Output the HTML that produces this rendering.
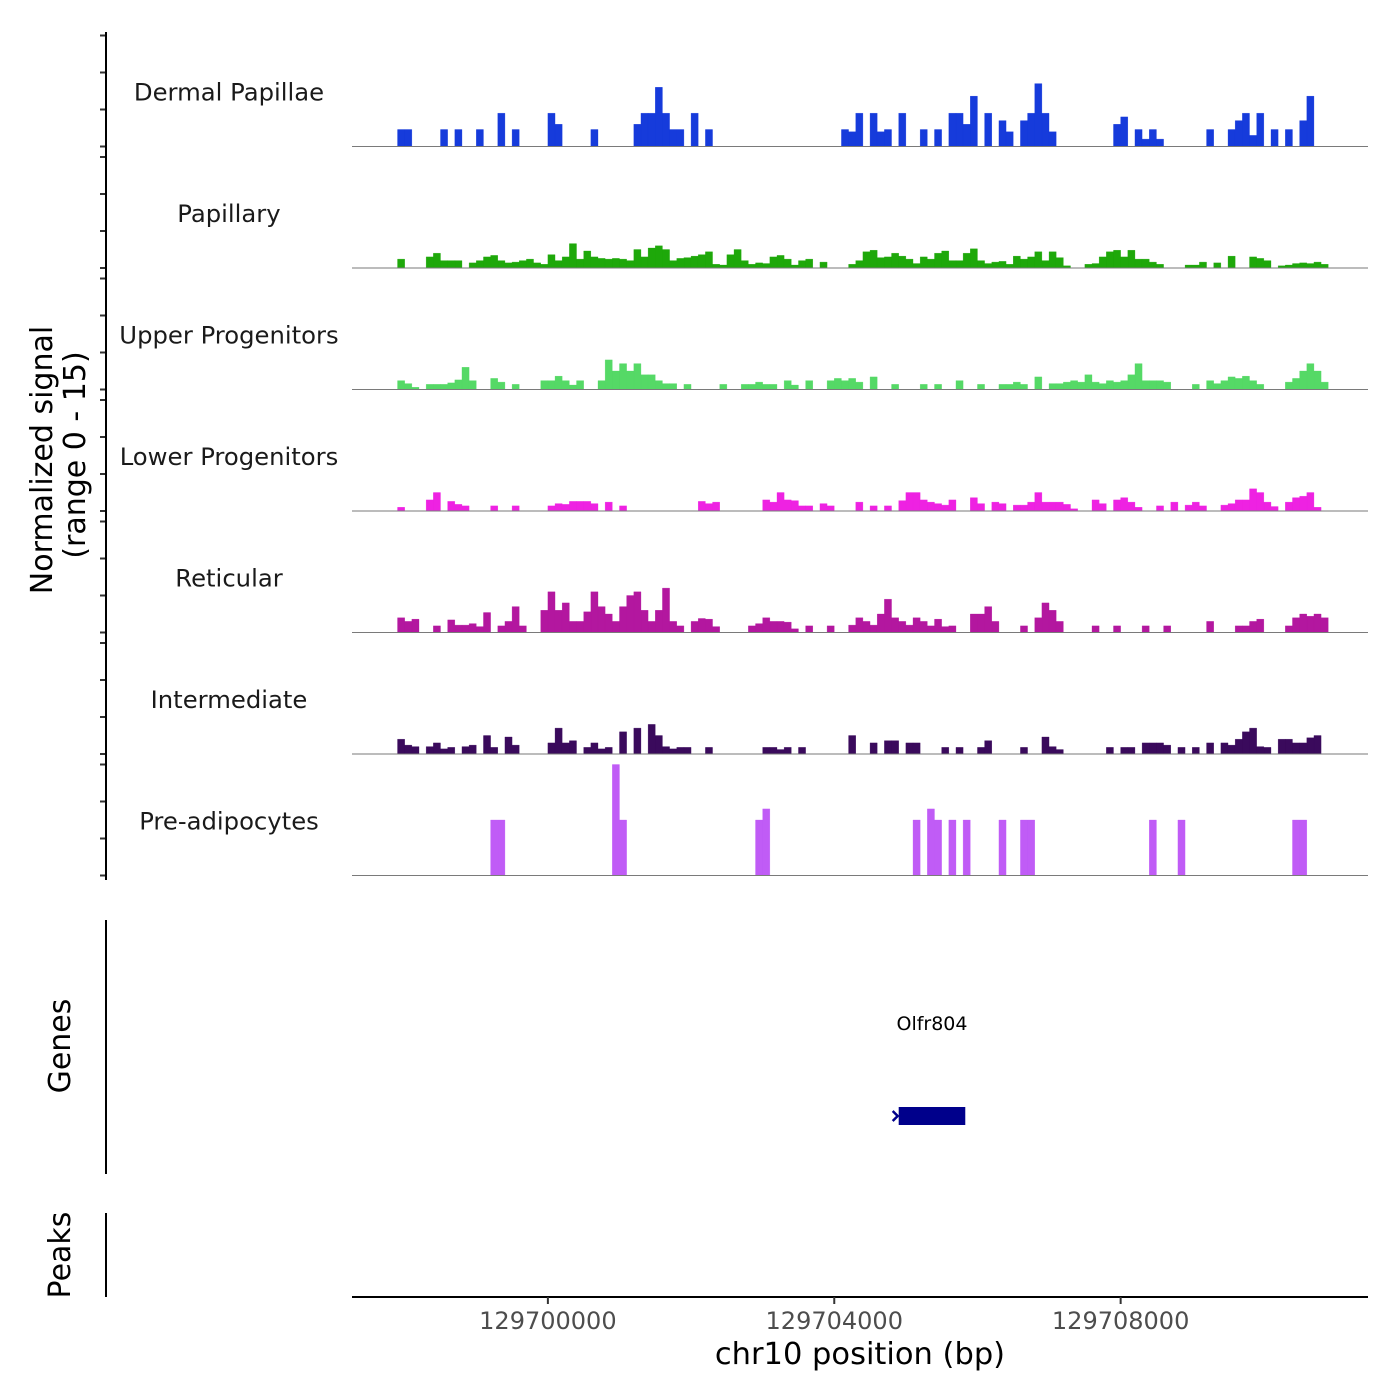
<!DOCTYPE html>
<html><head><meta charset="utf-8"><style>
html,body{margin:0;padding:0;background:#fff}
svg{display:block;font-family:"DejaVu Sans","Liberation Sans",sans-serif}
</style></head><body>
<svg id="chart" width="1400" height="1400" viewBox="0 0 1400 1400" xmlns="http://www.w3.org/2000/svg">
<g id="tracks"></g>
<g id="axes"></g>
<text transform="translate(52,460) rotate(-90)" text-anchor="middle" font-size="30" fill="#000">Normalized signal</text>
<text transform="translate(85,455) rotate(-90)" text-anchor="middle" font-size="30" fill="#000">(range 0 - 15)</text>
<line x1="106" y1="920" x2="106" y2="1174" stroke="#000" stroke-width="2"/>
<text transform="translate(70,1046) rotate(-90)" text-anchor="middle" font-size="30" fill="#000">Genes</text>
<line x1="106" y1="1213" x2="106" y2="1297" stroke="#000" stroke-width="2"/>
<text transform="translate(70,1255) rotate(-90)" text-anchor="middle" font-size="30" fill="#000">Peaks</text>
<g id="genes"></g>
</svg>
<script>
// genomic axis domain
const xDomain = [129697264, 129711455];
const binStart = 129697800;
const binSize = 100;
const trackNames = ["Dermal Papillae","Papillary","Upper Progenitors","Lower Progenitors","Reticular","Intermediate","Pre-adipocytes"];
const trackColors = ["#163bdb","#1ea80a","#55d966","#ee22e2","#b3179f","#3a0a5c","#c05cf6"];
const yTickValues = [0,5,10,15];
const xTickValues = [129700000,129704000,129708000];
const xTickLabels = ["129700000","129704000","129708000"];
const geneNames = ["Olfr804"];
const geneStarts = [129704900];
const geneEnds = [129705830];

// [bin index, normalized signal]
const dermal = [[1,2.3],[2,2.3],[7,2.3],[9,2.3],[12,2.3],[15,4.5],[17,2.3],[22,4.5],[23,3],[28,2.3],[34,3],[35,4.5],[36,4.5],[37,8],[38,4.5],[39,2.3],[40,2.3],[42,4.5],[44,2.3],[63,2.3],[64,2],[65,4.5],[67,4.5],[68,2],[69,2.3],[71,4.5],[74,2.3],[76,2.3],[78,4.5],[79,4.5],[80,3],[81,6.8],[83,4.5],[85,3.5],[86,2],[88,3.5],[89,4.5],[90,8.5],[91,4.5],[92,2],[101,3],[102,4],[104,2.3],[105,1],[106,2.3],[107,1],[114,2.3],[117,2.3],[118,3.5],[119,4.5],[120,1.5],[121,4.5],[123,2.3],[125,2.3],[127,3.5],[128,6.8]];
const papillary = [[1,1.2],[5,1.5],[6,2],[7,1],[8,1],[9,1],[11,0.7],[12,1],[13,1.5],[14,1.7],[15,1],[16,0.7],[17,0.8],[18,1],[19,1.2],[20,0.7],[21,0.5],[22,1.8],[23,1],[24,1.5],[25,3.3],[26,1.2],[27,2.3],[28,1.5],[29,1.3],[30,1.2],[31,1.3],[32,1.2],[33,1],[34,2.5],[35,1.5],[36,2.7],[37,3],[38,2.5],[39,1],[40,1.3],[41,1.4],[42,1.6],[43,1.8],[44,2.2],[45,0.5],[46,0.4],[47,1.8],[48,2.5],[49,1],[50,0.5],[51,0.7],[52,0.6],[53,1.5],[54,1.7],[55,1.2],[56,0.4],[57,1],[58,1.2],[60,0.8],[64,0.5],[65,1],[66,2.2],[67,2.4],[68,1.4],[69,1.5],[70,2],[71,1.6],[72,1.2],[73,0.6],[74,1.5],[75,1.2],[76,2],[77,2.3],[78,1],[79,1],[80,2],[81,2.6],[82,1],[83,0.6],[84,0.8],[85,0.9],[86,0.5],[87,1.6],[88,1.2],[89,1.5],[90,2.2],[91,1],[92,2.2],[93,1.4],[94,0.3],[97,0.5],[98,0.6],[99,1.5],[100,2.2],[101,2.4],[102,1.5],[103,2.4],[104,1.2],[105,1.2],[106,0.8],[107,0.5],[111,0.4],[112,0.4],[113,0.8],[115,0.7],[117,1.6],[120,1.5],[121,1.3],[122,1],[124,0.3],[125,0.4],[126,0.6],[127,0.7],[128,0.6],[129,0.8],[130,0.5]];
const upper = [[1,1.2],[2,0.8],[3,0.3],[5,0.7],[6,0.7],[7,0.7],[8,0.9],[9,1.3],[10,3],[11,1.2],[14,1.5],[15,1],[17,0.7],[21,1.2],[22,1.2],[23,1.8],[24,1.2],[25,0.6],[26,1.2],[29,1.2],[30,4],[31,2.5],[32,3.5],[33,2.5],[34,3.5],[35,2],[36,2],[37,1.2],[38,0.8],[39,0.8],[41,0.7],[46,0.7],[49,0.7],[50,0.7],[51,1],[52,0.7],[53,0.7],[55,1.2],[56,0.6],[58,1.2],[61,1.2],[62,1.5],[63,1.2],[64,1.5],[65,1],[67,1.7],[70,0.7],[74,0.7],[76,0.7],[79,1.2],[82,0.7],[85,0.7],[86,0.7],[87,1],[88,0.7],[90,1.7],[92,0.8],[93,0.8],[94,1],[95,1.2],[96,1],[97,2],[98,1],[99,0.8],[100,1.2],[101,1],[102,1.2],[103,2],[104,3.5],[105,1.2],[106,1.2],[107,1.2],[108,1],[112,0.7],[114,1.2],[115,0.8],[116,1.2],[117,1.7],[118,1.5],[119,1.8],[120,1.2],[121,0.7],[125,1],[126,1.5],[127,2.5],[128,3.5],[129,2.5],[130,1]];
const lower = [[1,0.5],[5,1.5],[6,2.5],[8,1.3],[9,0.9],[10,0.7],[14,0.7],[17,0.7],[22,0.7],[23,1],[24,0.9],[25,1.3],[26,1.3],[27,1.3],[28,1],[30,1.2],[32,0.7],[43,1.3],[44,1],[45,1.2],[52,1.5],[53,1.2],[54,2.5],[55,1.5],[56,1.4],[57,0.7],[58,0.7],[60,1],[61,0.7],[65,1.2],[67,0.7],[69,0.7],[71,1.4],[72,2.5],[73,2.5],[74,1.5],[75,1.2],[76,1],[77,0.8],[78,1.5],[81,1.8],[82,1],[84,1.2],[85,1],[87,0.8],[88,0.8],[89,1.2],[90,2.5],[91,1.2],[92,1.2],[93,1.2],[94,0.9],[95,0.3],[98,1.5],[99,1],[101,1.5],[102,1.8],[103,1.2],[104,0.5],[107,0.7],[109,1.2],[111,0.8],[112,1.2],[113,0.7],[116,0.8],[117,1],[118,1.5],[119,1.5],[120,3],[121,2.5],[122,1.2],[123,0.6],[125,1.2],[126,1.8],[127,2],[128,2.5],[129,0.5]];
const reticular = [[1,2],[2,1.5],[3,1.8],[6,0.9],[8,1.7],[9,1],[10,1],[11,1.2],[12,0.8],[13,2.7],[15,0.9],[16,1.5],[17,3.5],[18,0.9],[21,3],[22,5.5],[23,3],[24,4],[25,1.5],[26,1.5],[27,2.8],[28,5.5],[29,3.5],[30,2.5],[31,1.5],[32,3.5],[33,5],[34,5.5],[35,3],[36,1.5],[37,3],[38,6],[39,1.5],[40,0.9],[42,1.5],[43,1.9],[44,1.8],[45,0.8],[50,0.9],[51,1.2],[52,2],[53,1.5],[54,1.5],[55,1.4],[56,0.5],[58,0.9],[61,0.9],[64,1],[65,2],[66,1.5],[67,1],[68,2.5],[69,4.5],[70,2],[71,1.5],[72,1],[73,2],[74,1.5],[75,0.9],[76,1.8],[77,0.8],[78,0.9],[81,2.5],[82,2.5],[83,3.5],[84,1.5],[88,0.9],[90,2],[91,4],[92,3],[93,1.5],[98,0.9],[101,0.9],[105,0.9],[108,0.9],[114,1.5],[118,0.9],[119,0.9],[120,1.5],[121,1.8],[125,0.9],[126,2],[127,2.5],[128,2.2],[129,2.5],[130,2]];
const intermediate = [[1,2],[2,1.2],[3,1],[5,1],[6,1.5],[7,0.7],[8,0.9],[10,1],[11,1.2],[13,2.5],[14,0.9],[16,2.3],[17,1.2],[22,1.5],[23,3.5],[24,1.5],[25,1.8],[27,0.9],[28,1.5],[29,0.7],[30,0.9],[32,3],[34,3.5],[36,4],[37,2.5],[38,1],[39,0.7],[40,0.9],[41,0.9],[44,0.9],[52,0.9],[53,0.9],[54,0.6],[55,0.9],[57,0.9],[64,2.5],[67,1.5],[69,1.8],[70,1.8],[72,1.5],[73,1.5],[77,0.9],[79,0.9],[82,0.9],[83,1.8],[88,0.9],[91,2.3],[92,1],[93,0.6],[100,0.9],[102,0.9],[103,0.9],[105,1.5],[106,1.5],[107,1.5],[108,1.2],[110,0.9],[112,0.9],[114,1.5],[116,1.5],[117,1.2],[118,2],[119,3],[120,3.5],[121,1],[122,0.9],[124,2],[125,2],[126,1.5],[127,1.5],[128,2.2],[129,2.5]];
const preadipocytes = [[14,7.5],[15,7.5],[31,15],[32,7.5],[51,7.5],[52,9],[73,7.5],[75,9],[76,7.5],[78,7.5],[80,7.5],[85,7.5],[88,7.5],[89,7.5],[106,7.5],[110,7.5],[126,7.5],[127,7.5]];
const trackData = [dermal, papillary, upper, lower, reticular, intermediate, preadipocytes];

const NS = "http://www.w3.org/2000/svg";
const plotL = 352, plotR = 1368;
const trackTop = 25, trackH = 121.5;
const xScale = bp => plotL + (bp - xDomain[0]) / (xDomain[1] - xDomain[0]) * (plotR - plotL);
const baseline = t => trackTop + (t + 1) * trackH;
const yScale = (t, v) => baseline(t) - v / 15 * 111;
function mk(tag, attrs, parent) {
  const el = document.createElementNS(NS, tag);
  for (const k in attrs) el.setAttribute(k, attrs[k]);
  parent.appendChild(el);
  return el;
}
const tracksG = document.getElementById('tracks');
const axesG = document.getElementById('axes');

trackData.forEach((series, t) => {
  const g = mk('g', {}, tracksG);
  
  
  const b = baseline(t);
  let d = '';
  series.forEach(([i, v]) => {
    const x0 = xScale(binStart + i * binSize), x1 = xScale(binStart + (i + 1) * binSize);
    const y = yScale(t, v);
    d += `M${x0.toFixed(2)},${b}L${x0.toFixed(2)},${y.toFixed(2)}L${x1.toFixed(2)},${y.toFixed(2)}L${x1.toFixed(2)},${b}Z`;
  });
  const p = mk('path', {d: d, fill: trackColors[t], stroke: trackColors[t], 'stroke-width': 0.3}, g);
  
  
  const ln = mk('line', {x1: plotL, x2: plotR, y1: b, y2: b, stroke: '#7a7a7a', 'stroke-width': 1}, g);
  
  
  const lab = mk('text', {x: 229, y: b - 46, 'text-anchor': 'middle', 'font-size': 24.3, fill: '#1a1a1a'}, g);
  lab.textContent = trackNames[t];
  
  
  yTickValues.forEach(v => {
    const y = yScale(t, v);
    const tk = mk('line', {x1: 100, x2: 106, y1: y, y2: y, stroke: '#333', 'stroke-width': 2}, axesG);
    
    
  });
});
const yl = mk('line', {x1: 106, x2: 106, y1: 32, y2: 880, stroke: '#000', 'stroke-width': 2}, axesG);


const xl = mk('line', {x1: plotL, x2: plotR, y1: 1297, y2: 1297, stroke: '#000', 'stroke-width': 2}, axesG);


xTickValues.forEach((v, k) => {
  const x = xScale(v);
  const tk = mk('line', {x1: x, x2: x, y1: 1297, y2: 1304, stroke: '#333', 'stroke-width': 2}, axesG);
  
  
  const tl = mk('text', {x: x, y: 1329, 'text-anchor': 'middle', 'font-size': 24, fill: '#4d4d4d'}, axesG);
  tl.textContent = xTickLabels[k];
  
  
});
const xt = mk('text', {x: 860, y: 1364, 'text-anchor': 'middle', 'font-size': 30.5, fill: '#000'}, axesG);
xt.textContent = 'chr10 position (bp)';



const genesG = document.getElementById('genes');
geneNames.forEach((name, k) => {
  const x0 = xScale(geneStarts[k]), x1 = xScale(geneEnds[k]);
  const r = mk('rect', {x: x0, y: 1107, width: x1 - x0, height: 18, fill: '#00008b'}, genesG);
  
  
  const ar = mk('path', {d: `M${x0-6},1111L${x0-1},1116L${x0-6},1121`, fill: 'none', stroke: '#00008b', 'stroke-width': 2.5}, genesG);
  
  
  const gl = mk('text', {x: (x0 + x1) / 2, y: 1030, 'text-anchor': 'middle', 'font-size': 19, fill: '#000'}, genesG);
  gl.textContent = name;
  
  
});
</script>
</body></html>
